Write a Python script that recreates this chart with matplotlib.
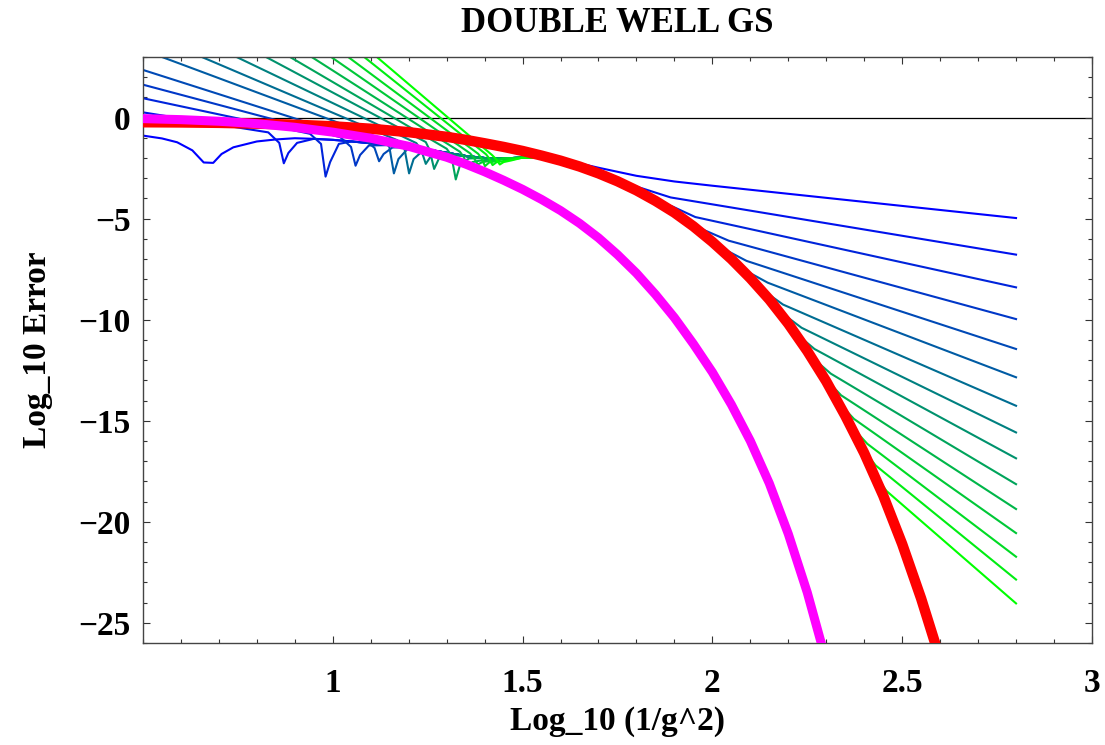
import matplotlib
matplotlib.use("Agg")
import matplotlib.pyplot as plt
from matplotlib.ticker import MultipleLocator, FixedLocator, FixedFormatter

# --- curve data: x = Log_10 (1/g^2), y = Log_10 Error ---

# optimal-truncation error (thick red)
red_x = [0.5, 0.6, 0.7, 0.8, 0.9, 1.0, 1.1, 1.2, 1.3, 1.35, 1.4, 1.45, 1.5,
         1.55, 1.6, 1.65, 1.7, 1.75, 1.8, 1.85, 1.9, 1.95, 2.0, 2.05, 2.1,
         2.15, 2.2, 2.25, 2.3, 2.35, 2.4, 2.45, 2.5, 2.55, 2.6]
red_y = [-0.23, -0.24, -0.26, -0.30, -0.35, -0.43, -0.55, -0.72, -0.95, -1.10,
         -1.27, -1.45, -1.65, -1.88, -2.13, -2.42, -2.76, -3.15, -3.60, -4.12,
         -4.70, -5.38, -6.15, -7.00, -7.95, -9.00, -10.20, -11.55, -13.05,
         -14.75, -16.60, -18.70, -21.10, -23.80, -26.80]

# improved estimate (thick magenta)
mag_x = [0.5, 0.6, 0.7, 0.8, 0.9, 1.0, 1.1, 1.2, 1.3, 1.35, 1.4, 1.45, 1.5,
         1.55, 1.6, 1.65, 1.7, 1.75, 1.8, 1.85, 1.9, 1.95, 2.0, 2.05, 2.1,
         2.15, 2.2, 2.25, 2.3]
mag_y = [-0.05, -0.10, -0.18, -0.30, -0.48, -0.72, -1.02, -1.42, -1.96, -2.30,
         -2.68, -3.10, -3.55, -4.05, -4.60, -5.23, -5.95, -6.78, -7.70, -8.75,
         -9.90, -11.20, -12.60, -14.20, -16.00, -18.10, -20.60, -23.50, -26.90]

# level the fixed-order curves settle on after their sign change
plateau_x = [0.80, 0.85, 0.90, 0.95, 1.00, 1.05, 1.10, 1.15, 1.20, 1.25, 1.30,
             1.35, 1.40, 1.45, 1.50, 1.55]
plateau_y = [-1.18, -1.08, -1.02, -1.05, -1.10, -1.18, -1.27, -1.36, -1.46,
             -1.58, -1.74, -1.90, -2.00, -2.02, -1.98, -1.98]

# fixed-order truncations, orders 1..15: left branch through the cusp
fan_left_x = [
    [0.5, 0.55, 0.59, 0.63, 0.66, 0.685, 0.707, 0.738],
    [0.5, 0.83, 0.859, 0.871, 0.883, 0.906],
    [0.5, 0.94, 0.969, 0.981, 0.993, 1.016],
    [0.5, 1.02, 1.048, 1.06, 1.072, 1.095],
    [0.5, 1.09, 1.11, 1.122, 1.134, 1.157],
    [0.5, 1.13, 1.149, 1.161, 1.173, 1.196],
    [0.605, 1.17, 1.189, 1.201, 1.213, 1.236],
    [0.702, 1.22, 1.233, 1.245, 1.257, 1.28],
    [0.784, 1.245, 1.255, 1.267, 1.279, 1.302],
    [0.851, 1.30, 1.312, 1.324, 1.336, 1.359],
    [0.911, 1.335, 1.345, 1.356, 1.368, 1.39],
    [0.965, 1.362, 1.372, 1.382, 1.394, 1.415],
    [1.012, 1.383, 1.392, 1.401, 1.412, 1.432],
    [1.056, 1.404, 1.412, 1.421, 1.432, 1.452],
    [1.091, 1.42, 1.43, 1.44, 1.45, 1.47],
]
fan_left_y = [
    [-0.89, -1.03, -1.22, -1.62, -2.22, -2.24, -1.80, -1.47],
    [0.26, -0.73, -1.25, -2.26, -1.75, -1.25],
    [0.96, -0.80, -1.30, -2.92, -2.20, -1.30],
    [1.63, -0.97, -1.45, -2.38, -1.85, -1.38],
    [2.36, -1.18, -1.50, -2.16, -1.80, -1.48],
    [3.35, -1.06, -1.45, -2.76, -2.05, -1.57],
    [3.4, -1.12, -1.55, -2.76, -2.05, -1.66],
    [3.4, -1.26, -1.60, -2.29, -1.95, -1.80],
    [3.4, -1.21, -1.60, -2.54, -2.05, -1.86],
    [3.4, -1.54, -1.85, -3.06, -2.30, -2.02],
    [3.4, -1.69, -1.95, -2.45, -2.20, -2.12],
    [3.4, -1.77, -2.00, -2.32, -2.20, -2.14],
    [3.4, -1.79, -2.02, -2.40, -2.22, -2.15],
    [3.4, -1.82, -2.02, -2.35, -2.20, -2.14],
    [3.4, -1.86, -2.05, -2.32, -2.20, -2.12],
]

# right branch: where each order leaves the red curve, out to x = 2.8
fan_right_x = [
    [1.6, 1.7, 1.8, 1.9, 2.0, 2.8],
    [1.815, 1.89, 2.8],
    [1.895, 1.955, 2.8],
    [1.98, 2.043, 2.8],
    [2.04, 2.09, 2.8],
    [2.10, 2.146, 2.8],
    [2.145, 2.186, 2.8],
    [2.195, 2.235, 2.8],
    [2.234, 2.269, 2.8],
    [2.275, 2.312, 2.8],
    [2.312, 2.339, 2.8],
    [2.345, 2.373, 2.8],
    [2.378, 2.408, 2.8],
    [2.409, 2.43, 2.8],
    [2.437, 2.459, 2.8],
]
fan_right_y = [
    [-2.05, -2.48, -2.88, -3.16, -3.37, -4.97],
    [-3.50, -3.95, -6.78],
    [-4.40, -4.92, -8.40],
    [-5.58, -6.09, -9.97],
    [-6.60, -7.09, -11.45],
    [-7.70, -8.17, -12.85],
    [-8.70, -9.25, -14.26],
    [-9.84, -10.40, -15.58],
    [-10.90, -11.45, -16.86],
    [-12.07, -12.67, -18.14],
    [-13.20, -13.74, -19.37],
    [-14.35, -14.91, -20.56],
    [-15.52, -16.14, -21.73],
    [-16.70, -17.21, -22.86],
    [-17.93, -18.48, -24.04],
]

plt.rcParams['font.family'] = ['Liberation Serif', 'DejaVu Serif']
plt.rcParams['font.weight'] = 'bold'

fig = plt.figure(figsize=(11.05, 7.45), dpi=100)
ax = fig.add_axes([0.1294, 0.1369, 0.8588, 0.7866])

ax.axhline(0, color='black', lw=0.9, zorder=1.5)

n_fan = len(fan_left_x)
for i in range(n_fan):
    xs = list(fan_left_x[i])
    ys = list(fan_left_y[i])
    # after the cusp: ride the plateau, then run along the red curve
    for px, py in zip(plateau_x, plateau_y):
        if px >= xs[-1] + 0.015:
            xs.append(px)
            ys.append(py)
    for rx, ry in zip(red_x, red_y):
        if plateau_x[-1] < rx < fan_right_x[i][0] - 0.03:
            xs.append(rx)
            ys.append(ry)
    xs += fan_right_x[i]
    ys += fan_right_y[i]
    t = i / (n_fan - 1)
    ax.plot(xs, ys, color=(0.0, t, 1.0 - t), lw=1.5, zorder=2)

ax.plot(red_x, red_y, color=(1, 0, 0), lw=7.5, zorder=3)
ax.plot(mag_x, mag_y, color=(1, 0, 1), lw=6.5, zorder=4)

ax.set_xlim(0.5, 3)
ax.set_ylim(-26, 3)

ax.xaxis.set_major_locator(FixedLocator([1, 1.5, 2, 2.5, 3]))
ax.xaxis.set_major_formatter(FixedFormatter(['1', '1.5', '2', '2.5', '3']))
ax.xaxis.set_minor_locator(MultipleLocator(0.1))
ax.yaxis.set_major_locator(MultipleLocator(5))
ax.yaxis.set_minor_locator(MultipleLocator(1))

ax.tick_params(which='both', direction='in', top=True, right=True,
               color='#333333', width=0.8)
ax.tick_params(which='major', length=5, labelsize=24)
ax.tick_params(which='minor', length=3)
ax.tick_params(axis='x', which='major', pad=18)
ax.tick_params(axis='y', which='major', pad=9)
for s in ax.spines.values():
    s.set_color('#444444')
    s.set_linewidth(1.0)

ax.set_title('DOUBLE WELL GS', fontsize=25, fontweight='bold', pad=18)
ax.set_xlabel('Log_10 (1/g^2)', fontsize=24, fontweight='bold')
ax.set_ylabel('Log_10 Error', fontsize=24, fontweight='bold')
ax.xaxis.set_label_coords(0.5, -0.107)
ax.yaxis.set_label_coords(-0.095, 0.5)

fig.savefig('out.png', dpi=100)
